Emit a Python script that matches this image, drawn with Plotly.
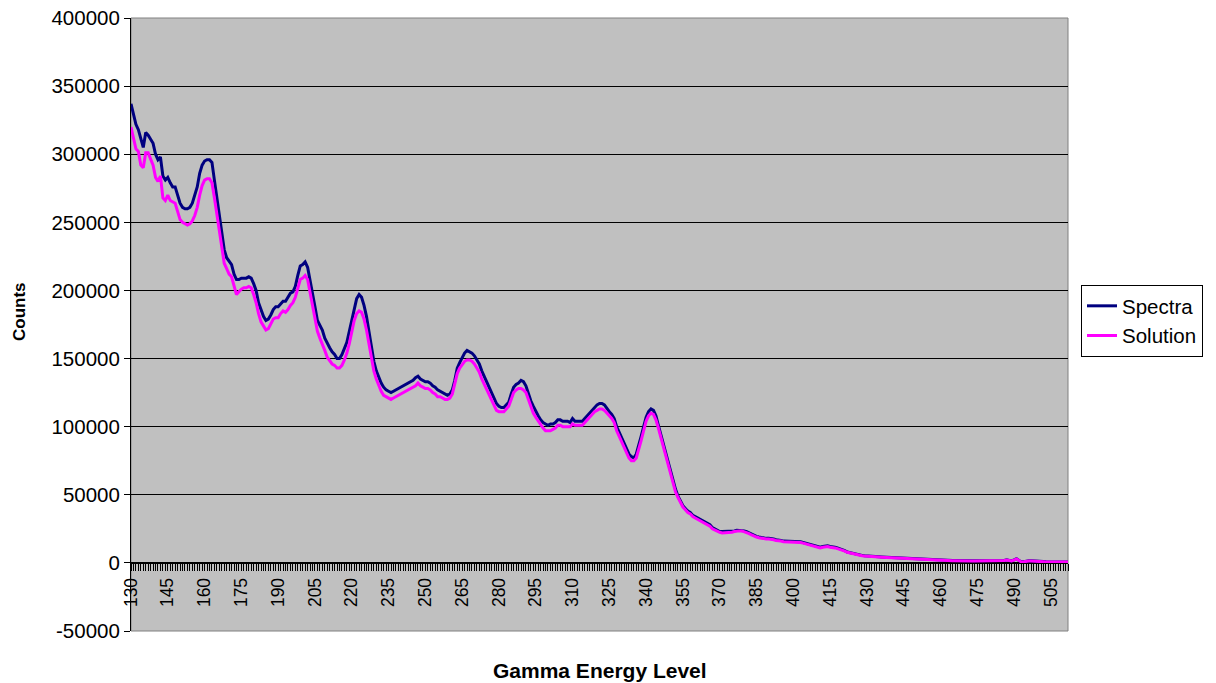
import plotly.graph_objects as go

# Gamma energy channels (categories)
energy = list(range(130, 513))

# Y-axis tick values and their labels
y_ticks = [-50000, 0, 50000, 100000, 150000, 200000, 250000, 300000, 350000, 400000]
y_tick_labels = ["-50000", "0", "50000", "100000", "150000", "200000",
                 "250000", "300000", "350000", "400000"]

# Counts in thousands
spectra_k = [
    337, 330, 322, 318, 312, 305, 316, 314, 311, 308,
    300, 296, 298, 284, 281, 283, 279, 276, 276, 270,
    264, 261, 260, 260, 261, 264, 270, 276, 286, 292,
    295, 296, 296, 294, 281, 268, 256, 240, 230, 224,
    221, 219, 212, 208, 208, 209, 209, 209, 210, 209,
    205, 200, 191, 186, 181, 178, 179, 182, 186, 188,
    188, 190, 192, 192, 195, 198, 199, 203, 211, 218,
    219, 221, 217, 208, 198, 188, 178, 175, 171, 165,
    161, 158, 155, 153, 150, 150, 153, 157, 162, 170,
    178, 188, 194, 197, 195, 189, 181, 170, 159, 148,
    141, 136, 132, 129, 127, 126, 125, 126, 127, 128,
    129, 130, 131, 132, 133, 134, 136, 137, 135, 134,
    133, 133, 132, 130, 129, 127, 126, 125, 124, 123,
    124, 127, 134, 143, 147, 151, 154, 156, 155, 154,
    152, 149, 146, 141, 137, 133, 129, 125, 121, 117,
    115, 114, 114, 116, 118, 124, 129, 131, 132, 134,
    133, 130, 124, 119, 115, 111, 108, 105, 103, 102,
    101, 102, 102, 103, 105, 105, 104, 104, 104, 103,
    106, 104, 104, 104, 104, 106, 108, 110, 112, 114,
    116, 117, 117, 116, 113, 111, 109, 106, 100, 96,
    92, 87, 84, 80, 78, 77, 80, 86, 93, 100,
    107, 111, 113, 112, 108, 101, 94, 87, 80, 73,
    67, 60, 54, 49, 45, 42, 40, 38, 37, 35,
    34, 33, 32, 31, 30, 29, 28, 26, 25, 24,
    23, 23, 23, 23, 23, 23, 23.5, 24, 24, 24,
    23.5, 23, 22, 21, 20, 19.5, 19, 18.5, 18.5, 18,
    18, 18, 17.5, 17, 17, 16.5, 16, 16, 16, 16,
    16, 16, 16, 15.5, 15, 14.5, 13.5, 13, 12.5, 12,
    11.5, 11.5, 12, 12.5, 12.5, 12, 12, 11.5, 11, 10.5,
    10, 9, 8, 7.5, 7, 6.8, 6.5, 6, 5.5, 5.2,
    5, 4.9, 4.8, 4.7, 4.6, 4.5, 4.4, 4.3, 4.2, 4.0,
    3.8, 3.6, 3.5, 3.4, 3.3, 3.2, 3.0, 2.9, 2.8, 2.7,
    2.6, 2.5, 2.5, 2.4, 2.3, 2.3, 2.2, 2.2, 2.1, 2.0,
    2.0, 1.9, 1.9, 1.8, 1.8, 1.7, 1.7, 1.6, 1.6, 1.6,
    1.5, 1.5, 1.5, 1.5, 1.5, 1.5, 1.5, 1.5, 1.5, 1.5,
    1.5, 1.5, 1.5, 1.5, 1.5, 1.6, 1.8, 2.2, 2.0, 1.5,
    2.2, 3.0, 1.8, 0.8, 0.9, 1.3, 1.5, 1.5, 1.5, 1.4,
    1.4, 1.2, 1.0, 0.8, 0.7, 0.7, 0.7, 0.7, 0.7, 0.7,
    0.7, 0.7, 0.7,
]

solution_k = [
    320, 312, 304, 302, 292, 290, 301, 301, 297, 292,
    283, 280, 284, 268, 266, 270, 266, 265, 264, 258,
    252, 250, 249, 248, 249, 251, 255, 261, 270, 277,
    281, 282, 282, 279, 268, 256, 243, 229, 220, 216,
    212, 210, 204, 197, 199, 201, 202, 202, 203, 202,
    197, 191, 183, 177, 174, 171, 172, 175, 179, 180,
    180, 183, 185, 184, 186, 189, 191, 195, 202, 208,
    209, 211, 208, 199, 189, 179, 170, 165, 161, 156,
    151, 148, 146, 145, 143, 143, 145, 149, 154, 161,
    169, 178, 183, 185, 184, 179, 171, 161, 151, 141,
    135, 130, 126, 123, 122, 121, 120, 121, 122, 123,
    124, 125, 126, 127, 128, 129, 130, 132, 130, 129,
    128, 128, 127, 125, 124, 122, 122, 121, 120, 120,
    121, 124, 131, 139, 143, 146, 148, 149, 149, 148,
    146, 143, 140, 135, 131, 127, 123, 119, 115, 112,
    111, 111, 111, 113, 115, 120, 125, 127, 128, 128,
    127, 125, 120, 114, 110, 107, 104, 101, 99, 97,
    97, 97, 98, 99, 101, 101, 100, 100, 100, 100,
    102, 101, 101, 101, 101, 103, 105, 107, 109, 111,
    112, 113, 113, 112, 110, 108, 106, 103, 97, 93,
    89, 84, 81, 77, 75, 75, 77, 83, 90, 97,
    104, 108, 110, 109, 105, 99, 92, 85, 78, 71,
    65, 58, 52, 48, 44, 41, 39, 37, 36, 34,
    33, 32, 31, 30, 29, 28, 27, 25, 24, 23,
    22.5, 22, 22, 22, 22.5, 22.5, 23, 23.5, 23.5, 23.5,
    23, 22.5, 21.5, 20.5, 19.5, 19, 18.5, 18, 18, 17.5,
    17.5, 17.5, 17, 16.5, 16.5, 16, 15.5, 15.5, 15.5, 15.5,
    15.5, 15.5, 15.5, 15, 14.5, 14, 13, 12.5, 12, 11.5,
    11, 11, 11.5, 12, 12, 11.5, 11.5, 11, 10.5, 10,
    9.5, 8.7, 7.8, 7.3, 6.8, 6.6, 6.3, 5.8, 5.3, 5.0,
    4.8, 4.7, 4.6, 4.5, 4.4, 4.3, 4.2, 4.1, 4.0, 3.8,
    3.6, 3.5, 3.4, 3.3, 3.2, 3.1, 2.9, 2.8, 2.7, 2.6,
    2.5, 2.4, 2.4, 2.3, 2.2, 2.2, 2.1, 2.1, 2.0, 1.9,
    1.9, 1.8, 1.8, 1.7, 1.7, 1.6, 1.6, 1.5, 1.5, 1.5,
    1.4, 1.4, 1.4, 1.4, 1.4, 1.4, 1.4, 1.4, 1.4, 1.4,
    1.4, 1.4, 1.4, 1.4, 1.4, 1.5, 1.7, 2.1, 1.9, 1.4,
    2.1, 2.9, 1.7, 0.7, 0.8, 1.2, 1.4, 1.4, 1.4, 1.3,
    1.3, 1.1, 0.9, 0.7, 0.6, 0.6, 0.6, 0.6, 0.6, 0.6,
    0.6, 0.6, 0.6,
]

spectra = [v * 1000 for v in spectra_k]
solution = [v * 1000 for v in solution_k]

FONT = "Liberation Sans, Arial, sans-serif"

fig = go.Figure()
fig.add_trace(go.Scatter(x=energy, y=spectra, mode="lines", name="Spectra",
                         line=dict(color="#000080", width=3)))
fig.add_trace(go.Scatter(x=energy, y=solution, mode="lines", name="Solution",
                         line=dict(color="#FF00FF", width=3)))

L, R, T, B = 131, 1068, 18, 631
W, H = 1216, 683
pw, ph = R - L, B - T

y0, y1 = -50000, 400000
zero_pos = (0 - y0) / (y1 - y0)

fig.update_layout(
    width=W, height=H,
    margin=dict(l=L, r=W - R, t=T, b=H - B, pad=0, autoexpand=False),
    paper_bgcolor="white",
    plot_bgcolor="#C0C0C0",
    font=dict(family=FONT, color="black", size=18),
    showlegend=True,
    legend=dict(
        x=(1081 - L) / pw, y=(B - 285) / ph, xanchor="left", yanchor="top",
        bordercolor="black", borderwidth=1, bgcolor="white",
        font=dict(size=20.5, family=FONT), tracegroupgap=0,
        itemwidth=30,
    ),
    xaxis=dict(
        range=[130, 512], tick0=130, dtick=15,
        anchor="free", position=zero_pos,
        showgrid=False, zeroline=False,
        showline=True, linecolor="black", linewidth=1,
        ticks="outside", ticklen=7, tickcolor="black", tickwidth=1,
        tickangle=-90, tickfont=dict(size=17.5, family=FONT),
        minor=dict(dtick=1, tick0=130, ticks="outside", ticklen=7,
                   tickcolor="black", tickwidth=1, showgrid=False),
    ),
    yaxis=dict(
        range=[y0, y1], tickmode="array", tickvals=y_ticks, ticktext=y_tick_labels,
        showgrid=True, gridcolor="black", gridwidth=1,
        zeroline=False,
        showline=True, linecolor="black", linewidth=1,
        ticks="outside", ticklen=6, tickcolor="black",
        tickfont=dict(size=20.5, family=FONT),
    ),
)

# plot-area border (right/bottom)
fig.add_shape(type="rect", xref="paper", yref="paper", x0=0, y0=0, x1=1, y1=1,
              line=dict(color="#808080", width=1), layer="below")

fig.add_annotation(text="<b>Counts</b>", xref="paper", yref="paper",
                   x=(20 - L) / pw, y=(B - 312) / ph, textangle=-90,
                   xanchor="center", yanchor="middle",
                   showarrow=False, font=dict(size=17, family=FONT))
fig.add_annotation(text="<b>Gamma Energy Level</b>", xref="paper", yref="paper",
                   x=(600 - L) / pw, y=(B - 670) / ph,
                   xanchor="center", yanchor="middle",
                   showarrow=False, font=dict(size=21, family=FONT))

fig.write_html(
    "out.html",
    config={"displayModeBar": False},
    post_script="document.body.style.margin='0';document.body.style.padding='0';",
)
